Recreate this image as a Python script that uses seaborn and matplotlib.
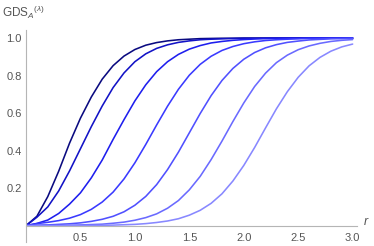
import matplotlib
matplotlib.use("Agg")
import matplotlib.pyplot as plt
from matplotlib.ticker import MultipleLocator, FixedLocator
import seaborn as sns
import pandas as pd

# r grid and GDS values (one list per curve)
r = [0.0, 0.1, 0.2, 0.3, 0.4, 0.5, 0.6, 0.7, 0.8, 0.9, 1.0,
     1.1, 1.2, 1.3, 1.4, 1.5, 1.6, 1.7, 1.8, 1.9, 2.0,
     2.1, 2.2, 2.3, 2.4, 2.5, 2.6, 2.7, 2.8, 2.9, 3.0]
g1 = [0.0, 0.050, 0.155, 0.290, 0.440, 0.573, 0.686, 0.781, 0.853, 0.904, 0.939,
      0.962, 0.976, 0.985, 0.991, 0.994, 0.997, 0.998, 0.999, 0.999, 1.0,
      1.0, 1.0, 1.0, 1.0, 1.0, 1.0, 1.0, 1.0, 1.0, 1.0]
g2 = [0.0, 0.045, 0.100, 0.185, 0.292, 0.410, 0.528, 0.638, 0.736, 0.814, 0.874,
      0.916, 0.945, 0.964, 0.977, 0.985, 0.991, 0.994, 0.996, 0.998, 0.999,
      0.999, 1.0, 1.0, 1.0, 1.0, 1.0, 1.0, 1.0, 1.0, 1.0]
g3 = [0.0, 0.012, 0.030, 0.065, 0.115, 0.175, 0.255, 0.350, 0.460, 0.565, 0.665,
      0.751, 0.821, 0.874, 0.913, 0.941, 0.960, 0.974, 0.982, 0.988, 0.992,
      0.995, 0.997, 0.998, 0.999, 0.999, 1.0, 1.0, 1.0, 1.0, 1.0]
g4 = [0.0, 0.011, 0.018, 0.027, 0.040, 0.059, 0.087, 0.126, 0.179, 0.249, 0.335,
      0.433, 0.537, 0.637, 0.727, 0.802, 0.860, 0.903, 0.934, 0.955, 0.970,
      0.980, 0.987, 0.991, 0.994, 0.996, 0.998, 0.998, 0.999, 0.999, 1.0]
g5 = [0.0, 0.003, 0.004, 0.007, 0.010, 0.015, 0.023, 0.034, 0.050, 0.074, 0.109,
      0.156, 0.219, 0.299, 0.392, 0.495, 0.598, 0.693, 0.774, 0.838, 0.887,
      0.923, 0.948, 0.965, 0.977, 0.984, 0.990, 0.993, 0.996, 0.997, 0.998]
g6 = [0.0, 0.001, 0.001, 0.002, 0.002, 0.004, 0.006, 0.008, 0.013, 0.019, 0.029,
      0.043, 0.063, 0.093, 0.134, 0.191, 0.263, 0.352, 0.451, 0.555, 0.654,
      0.742, 0.813, 0.869, 0.909, 0.938, 0.958, 0.972, 0.982, 0.988, 0.992]
g7 = [0.0, 0.0, 0.0, 0.0, 0.001, 0.001, 0.001, 0.002, 0.003, 0.005, 0.007,
      0.011, 0.017, 0.025, 0.037, 0.056, 0.082, 0.119, 0.170, 0.238, 0.321,
      0.417, 0.521, 0.623, 0.714, 0.791, 0.852, 0.897, 0.930, 0.953, 0.968]

series = [g1, g2, g3, g4, g5, g6, g7]
colors = ["#0a0a80", "#1212c6", "#1e1eee", "#3a3aff", "#5050ff", "#6a6aff", "#8888ff"]

df = pd.DataFrame({
    "r": r * len(series),
    "gds": [v for g in series for v in g],
    "curve": [k for k, g in enumerate(series) for _ in g],
})

sns.set_style("white")
plt.rcParams["font.family"] = ["Liberation Sans", "DejaVu Sans"]
plt.rcParams["mathtext.fontset"] = "custom"
plt.rcParams["mathtext.rm"] = "Liberation Sans"
plt.rcParams["mathtext.it"] = "Liberation Sans:italic"

fig = plt.figure(figsize=(3.74, 2.46), dpi=100)
ax = fig.add_axes([26 / 374, 4 / 246, 331 / 374, 212 / 246])

sns.lineplot(data=df, x="r", y="gds", hue="curve", palette=colors,
             estimator=None, sort=False, linewidth=1.15, legend=False, ax=ax)

ax.set_xlim(0, 3.04)
ax.set_ylim(-0.087, 1.043)
ax.spines["top"].set_visible(False)
ax.spines["right"].set_visible(False)
ax.spines["bottom"].set_position(("data", 0))
ax.spines["left"].set_position(("data", 0))
for s in ("bottom", "left"):
    ax.spines[s].set_color("#b5b5b5")
    ax.spines[s].set_linewidth(0.8)

ax.xaxis.set_major_locator(FixedLocator([0.5, 1.0, 1.5, 2.0, 2.5, 3.0]))
ax.xaxis.set_minor_locator(MultipleLocator(0.1))
ax.yaxis.set_major_locator(FixedLocator([0.2, 0.4, 0.6, 0.8, 1.0]))
ax.yaxis.set_minor_locator(MultipleLocator(0.05))
ax.tick_params(which="both", direction="in", colors="#b5b5b5", labelcolor="#555555",
               labelsize=8, width=0.6)
ax.tick_params(which="major", length=4)
ax.tick_params(which="minor", length=2)
ax.set_xticklabels(["0.5", "1.0", "1.5", "2.0", "2.5", "3.0"])
ax.set_yticklabels(["0.2", "0.4", "0.6", "0.8", "1.0"])
ax.tick_params(axis="x", pad=5)
ax.tick_params(axis="y", pad=3)
ax.set_xlabel("")
ax.set_ylabel("")

fig.text(2 / 374, 1 - 12 / 246, r"GDS$_{A}$$^{(\lambda)}$", color="#555555",
         fontsize=8.5, va="center", ha="left")
fig.text(364 / 374, 1 - 222 / 246, "r", color="#555555", fontsize=9,
         style="italic", va="center", ha="left")

fig.savefig("out.png", dpi=100)
